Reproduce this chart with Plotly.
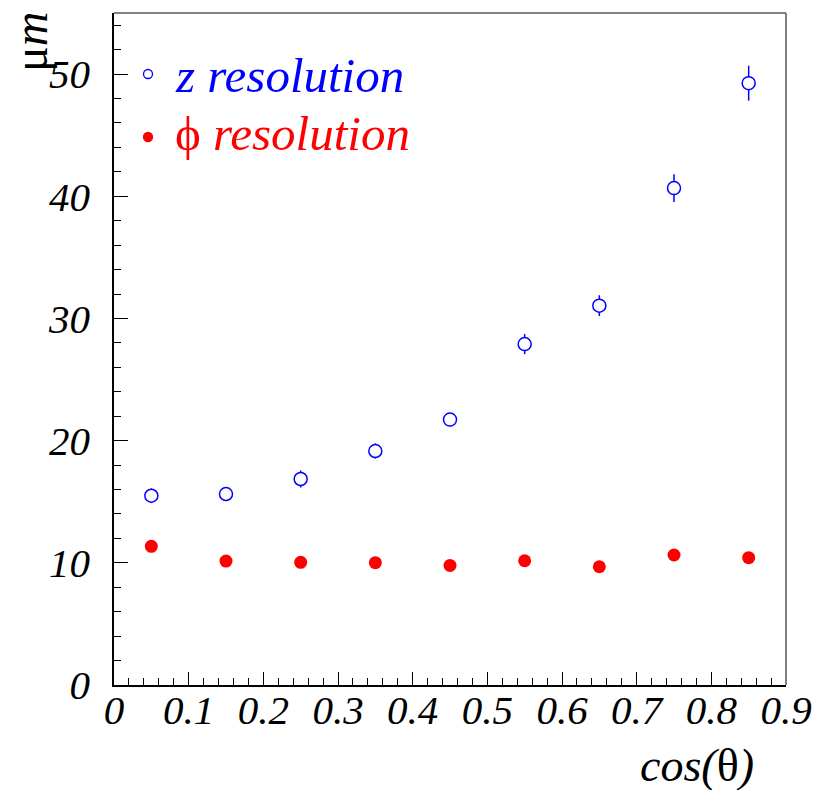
import plotly.graph_objects as go

# Resolution versus cos(theta)
cos_theta = [0.05, 0.15, 0.25, 0.35, 0.45, 0.55, 0.65, 0.75, 0.85]
z_res = [15.49, 15.63, 16.86, 19.15, 21.72, 27.9, 31.05, 40.67, 49.26]
z_err = [0.6, 0.5, 0.7, 0.62, 0.55, 0.82, 0.85, 1.13, 1.43]
phi_res = [11.35, 10.14, 10.04, 10.01, 9.79, 10.17, 9.68, 10.64, 10.42]

x_ticks = [0, 0.1, 0.2, 0.3, 0.4, 0.5, 0.6, 0.7, 0.8, 0.9]
x_tick_text = ["0", "0.1", "0.2", "0.3", "0.4", "0.5", "0.6", "0.7", "0.8", "0.9"]
y_ticks = [0, 10, 20, 30, 40, 50]
y_tick_text = ["0", "10", "20", "30", "40", "50"]

BLUE = "#0000ff"
RED = "#ff0000"
SERIF = "Liberation Serif"

W, H = 815, 790
L, R, T, B = 114, 29, 13, 105
PW, PH = W - L - R, H - T - B


def px_x(p):
    return (p - L) / PW


def px_y(p):
    return (H - B - p) / PH


fig = go.Figure()

fig.add_trace(go.Scatter(
    x=cos_theta, y=z_res, mode="markers",
    error_y=dict(type="data", array=z_err, visible=True, color=BLUE,
                 thickness=1.5, width=0),
    marker=dict(symbol="circle", size=13, color="white",
                line=dict(color=BLUE, width=1.5)),
    showlegend=False,
))

fig.add_trace(go.Scatter(
    x=cos_theta, y=phi_res, mode="markers",
    marker=dict(symbol="circle", size=13, color=RED, line=dict(width=0)),
    showlegend=False,
))

tick_font = dict(family=SERIF, size=41, style="italic", color="black")

fig.update_xaxes(
    range=[0, 0.9], tickvals=x_ticks, ticktext=x_tick_text,
    ticks="inside", ticklen=13, tickwidth=1, tickcolor="black",
    minor=dict(ticks="inside", ticklen=7, dtick=0.02, tick0=0,
               tickcolor="black", tickwidth=1),
    showline=True, linecolor="black", linewidth=1.5,
    showgrid=False, zeroline=False, tickfont=tick_font,
    ticklabelstandoff=-12, automargin=False,
)
fig.update_yaxes(
    range=[0, 55], tickvals=y_ticks, ticktext=y_tick_text,
    ticks="inside", ticklen=14, tickwidth=1, tickcolor="black",
    minor=dict(ticks="inside", ticklen=7, dtick=2, tick0=0,
               tickcolor="black", tickwidth=1),
    showline=True, linecolor="black", linewidth=1.5,
    showgrid=False, zeroline=False, tickfont=tick_font,
    ticklabelstandoff=14, automargin=False,
)

# Top and right frame edges
fig.add_shape(type="line", xref="paper", yref="paper", x0=0, x1=1, y0=1, y1=1,
              line=dict(color="#808080", width=2))
fig.add_shape(type="line", xref="paper", yref="paper", x0=1, x1=1, y0=0, y1=1,
              line=dict(color="#808080", width=2))

# Key markers
for cy, fill in [(74, "white"), (137, RED)]:
    r = 4.5
    fig.add_shape(type="circle", xref="paper", yref="paper",
                  x0=px_x(148 - r), x1=px_x(148 + r),
                  y0=px_y(cy + r), y1=px_y(cy - r),
                  fillcolor=fill,
                  line=dict(color=BLUE if fill == "white" else RED, width=1.3))

# Key labels
fig.add_annotation(
    xref="paper", yref="paper", x=px_x(173), y=px_y(75),
    xanchor="left", yanchor="middle", showarrow=False,
    text="<i>z resolution</i>",
    font=dict(family=SERIF, size=49, color=BLUE),
)
fig.add_annotation(
    xref="paper", yref="paper", x=px_x(173), y=px_y(133),
    xanchor="left", yanchor="middle", showarrow=False,
    text="ϕ <i>resolution</i>",
    font=dict(family=SERIF, size=49, color=RED),
)

# Axis titles
fig.add_annotation(
    xref="paper", yref="paper", x=px_x(697), y=px_y(765),
    xanchor="center", yanchor="middle", showarrow=False,
    text="<i>cos(</i>θ<i>)</i>",
    font=dict(family=SERIF, size=46, color="black"),
)
fig.add_annotation(
    xref="paper", yref="paper", x=px_x(31), y=px_y(42),
    xanchor="center", yanchor="middle", showarrow=False, textangle=-90,
    text="μ<i>m</i>",
    font=dict(family=SERIF, size=48, color="black"),
)

fig.update_layout(
    width=W, height=H,
    margin=dict(l=L, r=R, t=T, b=B, pad=0),
    paper_bgcolor="white", plot_bgcolor="white",
    showlegend=False,
)

fig.write_html("out.html")
